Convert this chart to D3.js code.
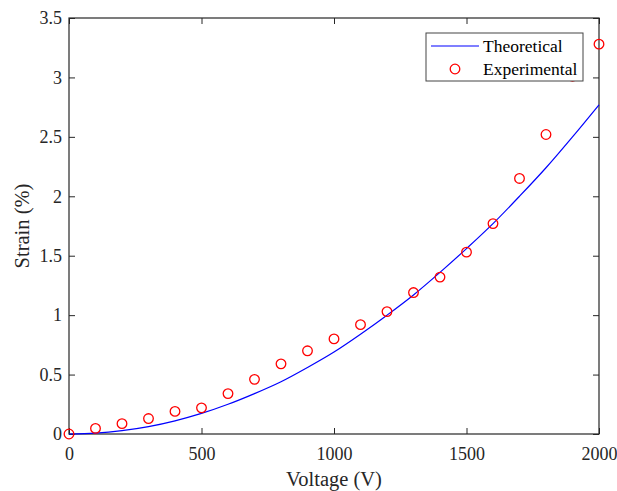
<!DOCTYPE html>
<html>
<head>
<meta charset="utf-8">
<script src="https://cdn.jsdelivr.net/npm/d3@7"></script>
<style>
  body { margin: 0; background: #fff; }
  svg text { font-family: "Liberation Serif", "Times New Roman", serif; }
</style>
</head>
<body>
<div id="root"></div>
<script>
// Data ////////////////////////////////////////////////////////////////
const theoVoltage = [0, 100, 200, 300, 400, 500, 600, 700, 800, 900, 1000,
  1100, 1200, 1300, 1400, 1500, 1600, 1700, 1800, 1900, 2000];
const theoStrain = [0, 0.007, 0.028, 0.062, 0.111, 0.173, 0.25, 0.34, 0.44, 0.56, 0.69,
  0.84, 1.0, 1.17, 1.36, 1.56, 1.77, 2.0, 2.24, 2.5, 2.77];

const expVoltage = [0, 100, 200, 300, 400, 500, 600, 700, 800, 900, 1000,
  1100, 1200, 1300, 1400, 1500, 1600, 1700, 1800, 1900, 2000];
const expStrain = [0, 0.047, 0.087, 0.13, 0.19, 0.22, 0.34, 0.46, 0.59, 0.70, 0.80,
  0.92, 1.03, 1.19, 1.32, 1.53, 1.77, 2.15, 2.52, 3.01, 3.28];

const xTicks = [0, 500, 1000, 1500, 2000];
const yTicks = [0, 0.5, 1, 1.5, 2, 2.5, 3, 3.5];
const legendLabels = ['Theoretical', 'Experimental'];

// Chart ///////////////////////////////////////////////////////////////
const width = 617;
const height = 491;
const margin = { top: 18, right: 18, bottom: 57, left: 69 };
const graphWidth = width - margin.left - margin.right;
const graphHeight = height - margin.top - margin.bottom;

const svg = d3.select('#root').append('svg')
  .attr('width', width)
  .attr('height', height);

const graph = svg.append('g')
  .attr('transform', `translate(${margin.left},${margin.top})`);

const xScale = d3.scaleLinear().domain([0, 2000]).range([0, graphWidth]);
const yScale = d3.scaleLinear().domain([0, 3.5]).range([graphHeight, 0]);

const axisColor = '#262626';

// axes (ticks inside, mirrored on top/right)
function styleAxis(g) {
  g.attr('font-family', null).attr('font-size', null);
  g.select('.domain').remove();
  g.selectAll('line').attr('stroke', axisColor);
  g.selectAll('text').style('font-size', '18px').attr('fill', axisColor);
}

graph.append('g')
  .attr('transform', `translate(0,${graphHeight})`)
  .call(d3.axisBottom(xScale).tickValues(xTicks).tickSizeInner(-6).tickSizeOuter(0).tickPadding(13)
    .tickFormat(d3.format('d')))
  .call(styleAxis);

graph.append('g')
  .call(d3.axisTop(xScale).tickValues(xTicks).tickSizeInner(-6).tickSizeOuter(0).tickFormat(''))
  .call(styleAxis);

graph.append('g')
  .call(d3.axisLeft(yScale).tickValues(yTicks).tickSizeInner(-6).tickSizeOuter(0).tickPadding(7)
    .tickFormat(d3.format('')))
  .call(styleAxis);

graph.append('g')
  .attr('transform', `translate(${graphWidth},0)`)
  .call(d3.axisRight(yScale).tickValues(yTicks).tickSizeInner(-6).tickSizeOuter(0).tickFormat(''))
  .call(styleAxis);

graph.append('rect')
  .attr('width', graphWidth)
  .attr('height', graphHeight)
  .attr('fill', 'none')
  .attr('stroke', axisColor)
  .attr('stroke-width', 1.2);

// theoretical line
const line = d3.line()
  .x((d, i) => xScale(theoVoltage[i]))
  .y((d) => yScale(d))
  .curve(d3.curveMonotoneX);

graph.append('path')
  .datum(theoStrain)
  .attr('d', line)
  .attr('fill', 'none')
  .attr('stroke', '#0000ff')
  .attr('stroke-width', 1.2);

// experimental points
graph.selectAll('circle.exp')
  .data(expStrain)
  .enter()
  .append('circle')
  .attr('class', 'exp')
  .attr('cx', (d, i) => xScale(expVoltage[i]))
  .attr('cy', (d) => yScale(d))
  .attr('r', 4.8)
  .attr('fill', 'none')
  .attr('stroke', '#ff0000')
  .attr('stroke-width', 1.3);

// axis labels
svg.append('text')
  .attr('x', margin.left + graphWidth / 2)
  .attr('y', 486)
  .attr('text-anchor', 'middle')
  .attr('fill', axisColor)
  .style('font-size', '20.5px')
  .text('Voltage (V)');

svg.append('text')
  .attr('transform', `translate(29,${margin.top + graphHeight / 2}) rotate(-90)`)
  .attr('text-anchor', 'middle')
  .attr('fill', axisColor)
  .style('font-size', '20.5px')
  .text('Strain (%)');

// legend
const legend = svg.append('g').attr('transform', 'translate(426,33)');
legend.append('rect')
  .attr('width', 157)
  .attr('height', 48)
  .attr('fill', '#fff')
  .attr('stroke', '#444')
  .attr('stroke-width', 1);

legend.append('line')
  .attr('x1', 5).attr('x2', 53)
  .attr('y1', 13).attr('y2', 13)
  .attr('stroke', '#0000ff')
  .attr('stroke-width', 1.2);

legend.append('circle')
  .attr('cx', 29).attr('cy', 36)
  .attr('r', 4.8)
  .attr('fill', 'none')
  .attr('stroke', '#ff0000')
  .attr('stroke-width', 1.3);

legend.selectAll('text.lbl')
  .data(legendLabels)
  .enter()
  .append('text')
  .attr('class', 'lbl')
  .attr('x', 57)
  .attr('y', (d, i) => 19 + i * 23)
  .attr('fill', '#000')
  .style('font-size', '17.5px')
  .text((d) => d);
</script>
</body>
</html>
